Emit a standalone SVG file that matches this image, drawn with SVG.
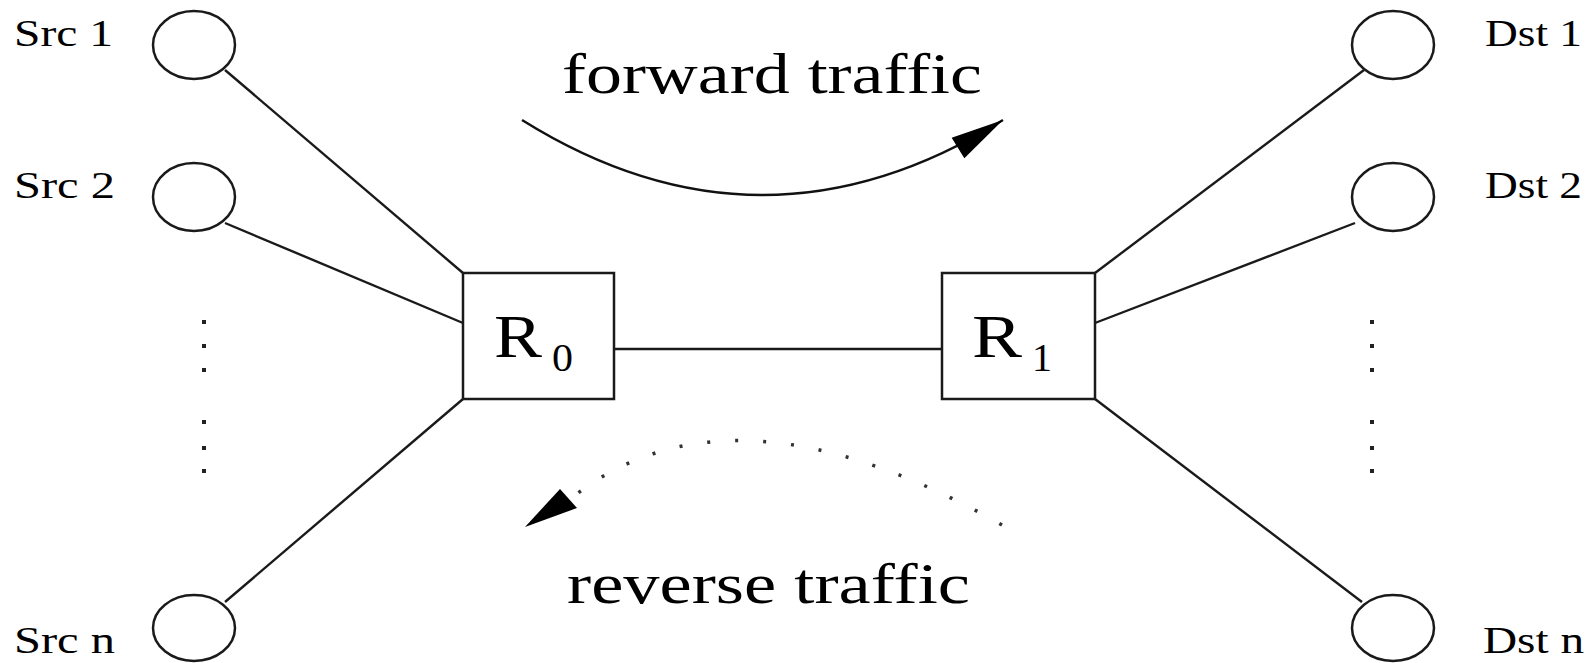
<svg xmlns="http://www.w3.org/2000/svg" width="1596" height="663" viewBox="0 0 1596 663">
<style>
.bg{fill:#fff}
.node{fill:#fff;stroke:#1a1a1a;stroke-width:2.5}
.link{stroke:#1a1a1a;stroke-width:2.4;fill:none}
.flow{stroke:#111;stroke-width:2.5;fill:none}
.dotted{stroke:#333;stroke-width:3.5;fill:none;stroke-dasharray:3 25}
.lbl{font-family:"Liberation Serif","Times New Roman",serif;font-size:37px;fill:#000}
.big{font-family:"Liberation Serif","Times New Roman",serif;font-size:58px;fill:#000}
.rt{font-family:"Liberation Serif","Times New Roman",serif;font-size:61px;fill:#000}
.sub{font-family:"Liberation Serif","Times New Roman",serif;font-size:40px;fill:#000}
.dot{fill:#222}
</style>
<defs>
<marker id="head" viewBox="-56 -14 58 28" refX="0" refY="0" markerWidth="58" markerHeight="28" markerUnits="userSpaceOnUse" orient="auto">
<path d="M0,0 L-53,-12 L-53,12 Z" fill="#000"/>
</marker>
</defs>
<rect class="bg" x="0" y="0" width="1596" height="663"/>
<g id="connectors">
<line class="link" x1="225" y1="70" x2="463" y2="273"/>
<line class="link" x1="225" y1="223" x2="463" y2="323"/>
<line class="link" x1="463" y1="399" x2="225" y2="602"/>
<line class="link" x1="614" y1="349" x2="942" y2="349"/>
<line class="link" x1="1095" y1="273" x2="1364" y2="70"/>
<line class="link" x1="1095" y1="323" x2="1355" y2="223"/>
<line class="link" x1="1095" y1="399" x2="1362" y2="602"/>
<path id="forward-arrow" class="flow" d="M522,120 Q762,270 1003,120" marker-end="url(#head)"/>
<path id="reverse-arrow" class="dotted" d="M1002,525 Q737,374 578,493"/>
<path d="M525,527 L560,489 L577,508 Z" fill="#000"/>
</g>
<g id="src1"><ellipse class="node" cx="194" cy="45" rx="41" ry="34"/><text class="lbl" x="14" y="46" textLength="99" lengthAdjust="spacingAndGlyphs">Src 1</text></g>
<g id="src2"><ellipse class="node" cx="194" cy="197" rx="41" ry="34"/><text class="lbl" x="14" y="198" textLength="101" lengthAdjust="spacingAndGlyphs">Src 2</text></g>
<g id="srcn"><ellipse class="node" cx="194" cy="628" rx="41" ry="33"/><text class="lbl" x="14" y="653" textLength="101" lengthAdjust="spacingAndGlyphs">Src n</text></g>
<g id="dst1"><ellipse class="node" cx="1393" cy="45" rx="41" ry="34"/><text class="lbl" x="1485" y="46" textLength="97" lengthAdjust="spacingAndGlyphs">Dst 1</text></g>
<g id="dst2"><ellipse class="node" cx="1393" cy="197" rx="41" ry="34"/><text class="lbl" x="1485" y="198" textLength="97" lengthAdjust="spacingAndGlyphs">Dst 2</text></g>
<g id="dstn"><ellipse class="node" cx="1393" cy="628" rx="41" ry="33"/><text class="lbl" x="1483" y="653" textLength="101" lengthAdjust="spacingAndGlyphs">Dst n</text></g>
<g id="r0"><rect class="node" x="463" y="273" width="151" height="126"/><text class="rt" x="494" y="357" textLength="48" lengthAdjust="spacingAndGlyphs">R</text><text class="sub" x="552" y="371" textLength="21" lengthAdjust="spacingAndGlyphs">0</text></g>
<g id="r1"><rect class="node" x="942" y="273" width="153" height="126"/><text class="rt" x="972" y="357" textLength="50" lengthAdjust="spacingAndGlyphs">R</text><text class="sub" x="1032" y="371" textLength="20" lengthAdjust="spacingAndGlyphs">1</text></g>
<g id="src-ellipsis">
<rect class="dot" x="202" y="320" width="4" height="4"/><rect class="dot" x="202" y="344" width="4" height="4"/><rect class="dot" x="202" y="368" width="4" height="4"/>
<rect class="dot" x="202" y="420" width="4" height="4"/><rect class="dot" x="202" y="446" width="4" height="4"/><rect class="dot" x="202" y="469" width="4" height="4"/>
</g>
<g id="dst-ellipsis">
<rect class="dot" x="1370" y="320" width="4" height="4"/><rect class="dot" x="1370" y="344" width="4" height="4"/><rect class="dot" x="1370" y="368" width="4" height="4"/>
<rect class="dot" x="1370" y="420" width="4" height="4"/><rect class="dot" x="1370" y="446" width="4" height="4"/><rect class="dot" x="1370" y="469" width="4" height="4"/>
</g>
<g id="labels">
<text class="big" x="562" y="93" textLength="420" lengthAdjust="spacingAndGlyphs">forward traffic</text>
<text class="big" x="567" y="603" textLength="403" lengthAdjust="spacingAndGlyphs">reverse traffic</text>
</g>
</svg>
